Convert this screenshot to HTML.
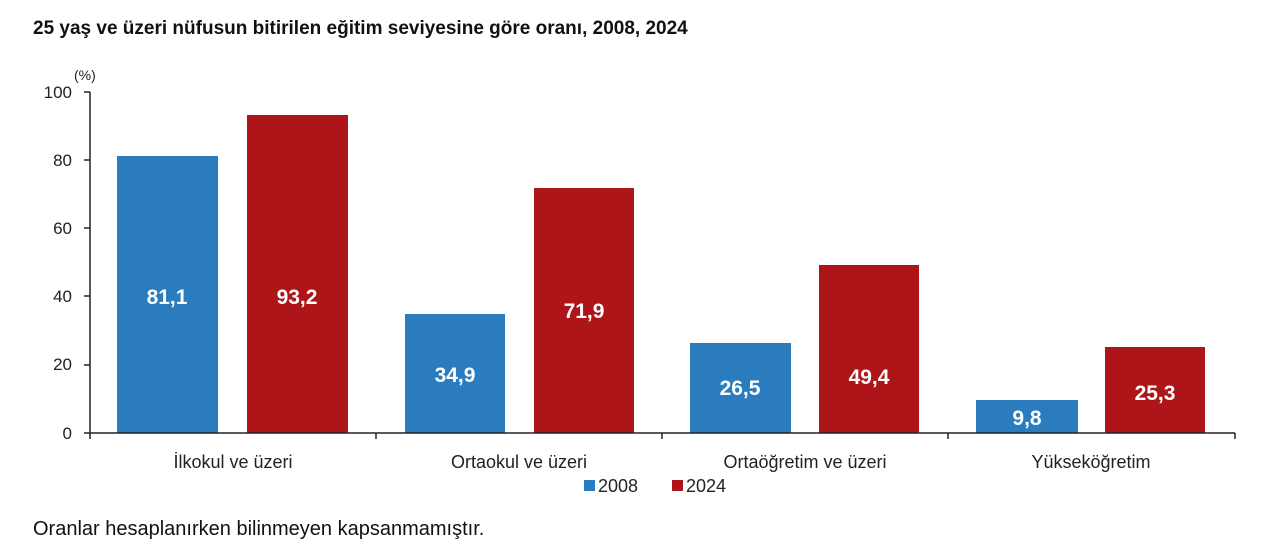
<!DOCTYPE html>
<html><head><meta charset="utf-8"><style>
body{margin:0;background:#fff;width:1280px;height:553px;overflow:hidden}
svg{display:block;font-family:"Liberation Sans",Arial,sans-serif}
</style></head><body>
<svg width="1280" height="553" viewBox="0 0 1280 553">
<text x="33" y="34" font-size="19" font-weight="bold" fill="#111">25 yaş ve üzeri nüfusun bitirilen eğitim seviyesine göre oranı, 2008, 2024</text>
<text x="74" y="80" font-size="14" fill="#222">(%)</text>
<g font-size="17" fill="#222" text-anchor="end">
<text x="72" y="98">100</text><text x="72" y="166">80</text><text x="72" y="234">60</text>
<text x="72" y="302">40</text><text x="72" y="370">20</text><text x="72" y="439">0</text>
</g>
<g stroke="#222" stroke-width="1.5">
<line x1="90" y1="92" x2="90" y2="439"/>
<line x1="84" y1="92" x2="90" y2="92"/><line x1="84" y1="160" x2="90" y2="160"/>
<line x1="84" y1="228" x2="90" y2="228"/><line x1="84" y1="296" x2="90" y2="296"/>
<line x1="84" y1="365" x2="90" y2="365"/><line x1="84" y1="433" x2="90" y2="433"/>
<line x1="376" y1="433" x2="376" y2="439"/><line x1="662" y1="433" x2="662" y2="439"/>
<line x1="948" y1="433" x2="948" y2="439"/><line x1="1235" y1="433" x2="1235" y2="439"/>
</g>
<g fill="#2b7bbf">
<rect x="117" y="156" width="101" height="277"/>
<rect x="405" y="314" width="100" height="119"/>
<rect x="690" y="343" width="101" height="90"/>
<rect x="976" y="400" width="102" height="33"/>
</g>
<g fill="#ad1519">
<rect x="247" y="115" width="101" height="318"/>
<rect x="534" y="188" width="100" height="245"/>
<rect x="819" y="265" width="100" height="168"/>
<rect x="1105" y="347" width="100" height="86"/>
</g>
<line x1="90" y1="433" x2="1235" y2="433" stroke="#222" stroke-width="1.5"/>
<g font-size="21" font-weight="bold" fill="#fff" text-anchor="middle">
<text x="167" y="304">81,1</text><text x="297" y="304">93,2</text>
<text x="455" y="382">34,9</text><text x="584" y="318">71,9</text>
<text x="740" y="395">26,5</text><text x="869" y="384">49,4</text>
<text x="1027" y="425">9,8</text><text x="1155" y="400">25,3</text>
</g>
<g font-size="18" fill="#222" text-anchor="middle">
<text x="233" y="468">İlkokul ve üzeri</text>
<text x="519" y="468">Ortaokul ve üzeri</text>
<text x="805" y="468">Ortaöğretim ve üzeri</text>
<text x="1091" y="468">Yükseköğretim</text>
</g>
<rect x="584" y="480" width="11" height="11" fill="#2b7bbf"/>
<text x="598" y="492" font-size="18" fill="#222">2008</text>
<rect x="672" y="480" width="11" height="11" fill="#ad1519"/>
<text x="686" y="492" font-size="18" fill="#222">2024</text>
<text x="33" y="535" font-size="20" fill="#111">Oranlar hesaplanırken bilinmeyen kapsanmamıştır.</text>
</svg>
</body></html>
